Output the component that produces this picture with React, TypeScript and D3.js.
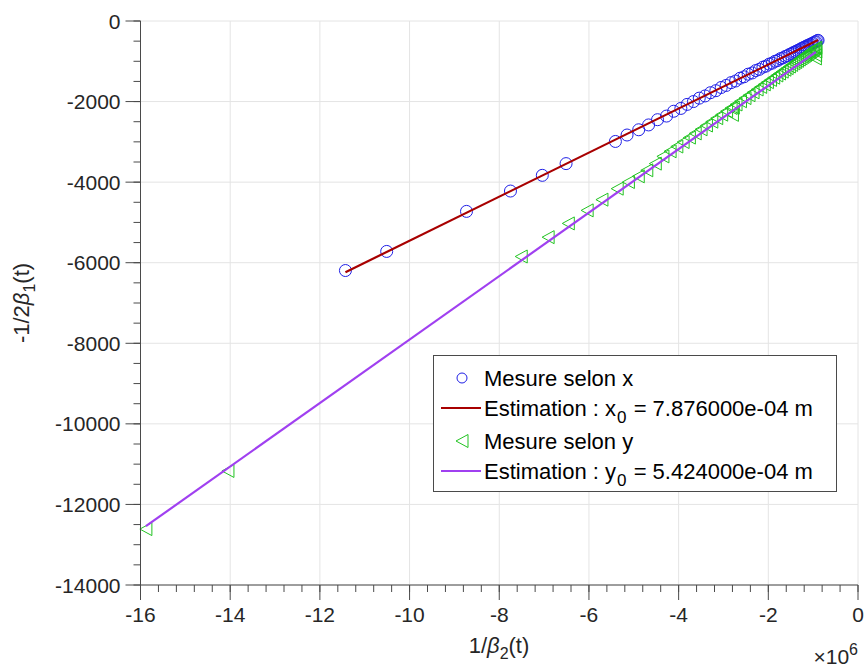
import React from "react";
import * as d3 from "d3";

// ---------- data (x in units of 1e6) ----------
const measXx: number[] = [
  -11.43, -10.51, -8.73, -7.75, -7.04, -6.51, -5.41, -5.15, -4.89, -4.67, -4.47, -4.27, -4.11, -3.95,
  -3.81, -3.67, -3.54, -3.41, -3.29, -3.17, -3.05, -2.94, -2.83, -2.73, -2.63, -2.54, -2.45, -2.36,
  -2.28, -2.2, -2.12, -2.05, -1.98, -1.91, -1.85, -1.79, -1.73, -1.67, -1.62, -1.57, -1.52, -1.47,
  -1.43, -1.39, -1.35, -1.31, -1.27, -1.24, -1.21, -1.18, -1.15, -1.12, -1.09, -1.06, -1.03, -1.0,
  -0.97, -0.94, -0.91, -0.89,
];
const measXy: number[] = [
  -6194, -5720, -4726, -4221, -3831, -3540, -2990, -2830, -2700, -2580, -2450, -2360, -2240, -2170,
  -2070, -2000, -1915, -1860, -1780, -1730, -1650, -1600, -1530, -1490, -1420, -1385, -1320, -1290,
  -1230, -1200, -1145, -1120, -1070, -1045, -1000, -980, -935, -915, -880, -860, -825, -805,
  -775, -760, -735, -715, -690, -675, -655, -645, -622, -612, -592, -580, -560, -548,
  -525, -515, -492, -480,
];

const measYx: number[] = [
  -15.88, -14.05, -7.51, -6.91, -6.46, -6.04, -5.71, -5.37, -5.12, -4.9, -4.71, -4.52, -4.35, -4.19,
  -4.04, -3.9, -3.76, -3.63, -3.5, -3.38, -3.26, -3.15, -3.04, -2.93, -2.83, -2.8, -2.78, -2.72,
  -2.62, -2.52, -2.43, -2.34, -2.25, -2.17, -2.09, -2.02, -1.95, -1.88, -1.81, -1.75, -1.69, -1.63,
  -1.58, -1.53, -1.48, -1.43, -1.39, -1.35, -1.31, -1.27, -1.23, -1.2, -1.17, -1.14, -1.11, -1.08,
  -1.05, -1.02, -0.99, -0.96, -0.94, -0.94, -0.945, -0.95,
];
const measYy: number[] = [
  -12612, -11169, -5846, -5366, -5025, -4701, -4435, -4162, -3997, -3856, -3706, -3540, -3361, -3234,
  -3116, -3005, -2894, -2791, -2689, -2594, -2499, -2412, -2325, -2238, -2159, -2330, -2150, -2072,
  -1992, -1913, -1842, -1771, -1700, -1636, -1573, -1518, -1462, -1407, -1352, -1304, -1257, -1209,
  -1170, -1130, -1091, -1051, -1019, -988, -956, -925, -893, -869, -845, -822, -798, -774,
  -751, -727, -703, -679, -664, -760, -850, -930,
];

const fitXx: number[] = [-11.43, -0.89];
const fitXy: number[] = [-6236, -473];
const fitYx: number[] = [-15.88, -0.94];
const fitYy: number[] = [-12540, -770];

const xMajorTicks: number[] = [-16, -14, -12, -10, -8, -6, -4, -2, 0];
const yMajorTicks: number[] = [0, -2000, -4000, -6000, -8000, -10000, -12000, -14000];

const legendLabels = {
  mx: "Mesure selon x",
  ex: ["Estimation : x", "0", " = 7.876000e-04 m"],
  my: "Mesure selon y",
  ey: ["Estimation : y", "0", " = 5.424000e-04 m"],
};

const FONT = "'Liberation Sans', Arial, Helvetica, sans-serif";
const C_BLUE = "#1f1fe6";
const C_RED = "#a80000";
const C_GREEN = "#22c322";
const C_PURPLE = "#a040f0";
const C_AXIS = "#4a4a4a";
const C_TEXT = "#262626";
const C_GRID = "#e4e4e4";

const TRI = "M-6,0L6,-6.5L6,6.5Z";

export default function App() {
  const W = 865;
  const H = 668;
  const x = d3.scaleLinear().domain([-16, 0]).range([140.5, 858]);
  const y = d3.scaleLinear().domain([-14000, 0]).range([585, 21]);

  const xMinor = d3.range(-16, 0.0001, 0.4).map((v) => Math.round(v * 10) / 10);
  const yMinor = d3.range(-14000, 1, 500);

  const line = d3
    .line<[number, number]>()
    .x((d) => x(d[0]))
    .y((d) => y(d[1]));

  const fitX = fitXx.map((v, i) => [v, fitXy[i]] as [number, number]);
  const fitY = fitYx.map((v, i) => [v, fitYy[i]] as [number, number]);

  const x0 = x.range()[0];
  const yb = y.range()[0];

  return (
    <svg
      width={W}
      height={H}
      style={{ position: "absolute", left: 0, top: 0, background: "#fff" }}
      fontFamily={FONT}
    >
      <rect x={0} y={0} width={W} height={H} fill="#fff" />
      {/* grid */}
      {xMajorTicks.map((t) => (
        <line key={"gx" + t} x1={x(t)} x2={x(t)} y1={y(0)} y2={yb} stroke={C_GRID} strokeWidth={1} />
      ))}
      {yMajorTicks.map((t) => (
        <line key={"gy" + t} x1={x0} x2={x(0)} y1={y(t)} y2={y(t)} stroke={C_GRID} strokeWidth={1} />
      ))}

      {/* data */}
      {measXx.map((v, i) => (
        <circle key={"c" + i} cx={x(v)} cy={y(measXy[i])} r={6} fill="none" stroke={C_BLUE} strokeWidth={1} />
      ))}
      <path d={line(fitX) || ""} fill="none" stroke={C_RED} strokeWidth={2.2} />
      {measYx.map((v, i) => (
        <path
          key={"t" + i}
          d={TRI}
          transform={`translate(${x(v)},${y(measYy[i])})`}
          fill="none"
          stroke={C_GREEN}
          strokeWidth={1}
        />
      ))}
      <path d={line(fitY) || ""} fill="none" stroke={C_PURPLE} strokeWidth={2.2} />

      {/* axes */}
      <line x1={x0} x2={x0} y1={y(0)} y2={yb} stroke={C_AXIS} strokeWidth={1} />
      <line x1={x0} x2={x(0)} y1={yb} y2={yb} stroke={C_AXIS} strokeWidth={1} />
      {xMinor.map((t) => (
        <line key={"mx" + t} x1={x(t)} x2={x(t)} y1={yb} y2={yb + 7} stroke={C_AXIS} strokeWidth={1} />
      ))}
      {xMajorTicks.map((t) => (
        <line key={"Mx" + t} x1={x(t)} x2={x(t)} y1={yb} y2={yb + 15} stroke={C_AXIS} strokeWidth={1} />
      ))}
      {yMinor.map((t) => (
        <line key={"my" + t} x1={x0 - 7} x2={x0} y1={y(t)} y2={y(t)} stroke={C_AXIS} strokeWidth={1} />
      ))}
      {yMajorTicks.map((t) => (
        <line key={"My" + t} x1={x0 - 15} x2={x0} y1={y(t)} y2={y(t)} stroke={C_AXIS} strokeWidth={1} />
      ))}
      {xMajorTicks.map((t) => (
        <text key={"lx" + t} x={x(t)} y={622} fontSize={21} textAnchor="middle" fill={C_TEXT}>
          {t}
        </text>
      ))}
      {yMajorTicks.map((t) => (
        <text key={"ly" + t} x={x0 - 20} y={y(t) + 7.5} fontSize={21} textAnchor="end" fill={C_TEXT}>
          {t}
        </text>
      ))}

      {/* axis labels */}
      <text x={499} y={653} fontSize={22} textAnchor="middle" fill={C_TEXT}>
        1/<tspan fontStyle="italic">β</tspan>
        <tspan fontSize={16} dy={6}>2</tspan>
        <tspan dy={-6}>(t)</tspan>
      </text>
      <text transform="translate(29,303) rotate(-90)" fontSize={22} textAnchor="middle" fill={C_TEXT}>
        -1/2<tspan fontStyle="italic">β</tspan>
        <tspan fontSize={16} dy={6}>1</tspan>
        <tspan dy={-6}>(t)</tspan>
      </text>
      <text x={858} y={664} fontSize={21} textAnchor="end" fill={C_TEXT}>
        ×10<tspan fontSize={16} dy={-9}>6</tspan>
      </text>

      {/* legend */}
      <rect x={433.5} y={355.5} width={403} height={136} fill="#fff" stroke={C_AXIS} strokeWidth={1} />
      <circle cx={462} cy={378} r={5} fill="none" stroke={C_BLUE} strokeWidth={1} />
      <text x={484} y={386} fontSize={22} fill="#000">
        {legendLabels.mx}
      </text>
      <line x1={441} x2={481} y1={408} y2={408} stroke={C_RED} strokeWidth={2.2} />
      <text x={484} y={415.5} fontSize={22} fill="#000">
        {legendLabels.ex[0]}
        <tspan fontSize={17} dy={7} dx={1}>{legendLabels.ex[1]}</tspan>
        <tspan dy={-7} dx={1}>{legendLabels.ex[2]}</tspan>
      </text>
      <path d={TRI} transform="translate(462,441)" fill="none" stroke={C_GREEN} strokeWidth={1} />
      <text x={484} y={449} fontSize={22} fill="#000">
        {legendLabels.my}
      </text>
      <line x1={441} x2={481} y1={471} y2={471} stroke={C_PURPLE} strokeWidth={2.2} />
      <text x={484} y={478.5} fontSize={22} fill="#000">
        {legendLabels.ey[0]}
        <tspan fontSize={17} dy={7} dx={1}>{legendLabels.ey[1]}</tspan>
        <tspan dy={-7} dx={1}>{legendLabels.ey[2]}</tspan>
      </text>
    </svg>
  );
}
